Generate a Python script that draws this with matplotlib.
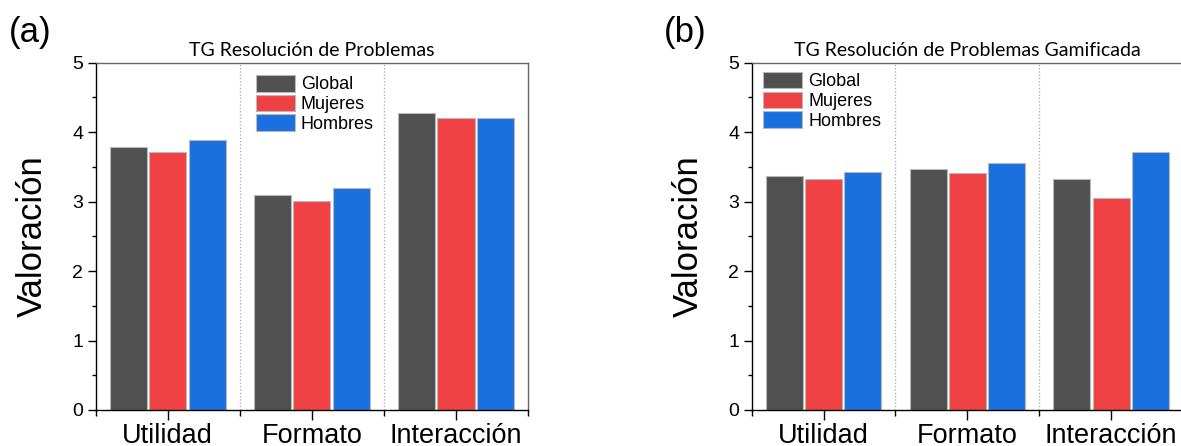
import numpy as np
import matplotlib
matplotlib.use('Agg')
from matplotlib import pyplot as plt
from matplotlib.ticker import MultipleLocator, FixedLocator

categories = ['Utilidad', 'Formato', 'Interacción']
series = ['Global', 'Mujeres', 'Hombres']

# panel (a): TG Resolución de Problemas
global_a = [3.78, 3.09, 4.28]
mujeres_a = [3.71, 3.01, 4.21]
hombres_a = [3.89, 3.19, 4.21]

# panel (b): TG Resolución de Problemas Gamificada
global_b = [3.37, 3.47, 3.32]
mujeres_b = [3.33, 3.41, 3.05]
hombres_b = [3.42, 3.56, 3.71]

titles = ['TG Resolución de Problemas', 'TG Resolución de Problemas Gamificada']
panel_labels = ['(a)', '(b)']

COLORS = ['#505050', '#ef4043', '#1b70df']
TICK_FONT = 'Liberation Sans'
TITLE_FONT = 'Lato'

plt.rcParams['font.family'] = [TICK_FONT, 'DejaVu Sans']

fig = plt.figure(figsize=(11.81, 4.46), dpi=100)
W, H = 1181.0, 446.0

def draw_panel(ax, values, title, legend_pos):
    x = np.arange(len(categories))
    width = 0.258
    step = 0.273
    for i, (name, vals) in enumerate(zip(series, values)):
        ax.bar(x + (i - 1) * step, vals, width, color=COLORS[i],
               edgecolor='#b8b8b8', linewidth=0.8, label=name, zorder=2)

    for b in [0.5, 1.5]:
        ax.axvline(b, color='#a8a8a8', linestyle=':', linewidth=0.9, zorder=1)

    ax.set_xlim(-0.5, 2.5)
    ax.set_ylim(0, 5)
    ax.set_xticks(x)
    ax.set_xticklabels(categories, fontsize=19.5)
    ax.xaxis.set_minor_locator(FixedLocator([-0.5, 0.5, 1.5, 2.5]))
    ax.yaxis.set_major_locator(MultipleLocator(1))
    ax.yaxis.set_minor_locator(MultipleLocator(0.5))
    ax.tick_params(axis='x', which='major', direction='out', length=7, width=1, pad=2.5)
    ax.tick_params(axis='x', which='minor', direction='out', length=4, width=1)
    ax.tick_params(axis='y', which='major', direction='out', length=6, width=1,
                   labelsize=14, pad=3)
    ax.tick_params(axis='y', which='minor', direction='out', length=3, width=1)

    for s in ['left', 'bottom']:
        ax.spines[s].set_color('black')
        ax.spines[s].set_linewidth(1.0)
    for s in ['top', 'right']:
        ax.spines[s].set_color('#666666')
        ax.spines[s].set_linewidth(1.0)

    ax.set_ylabel('Valoración', fontsize=25)
    ax.yaxis.set_label_coords(-0.108, 0.5)
    ax.set_title(title, fontsize=14, family=[TITLE_FONT, 'DejaVu Sans'], pad=5)

    ax.legend(loc='upper left', bbox_to_anchor=legend_pos, frameon=False,
              fontsize=13, handlelength=2.16, handleheight=1.05,
              handletextpad=0.35, labelspacing=0.07, borderpad=0,
              borderaxespad=0)

ax1 = fig.add_axes([95.7 / W, 36 / H, 432.3 / W, 347.3 / H])
ax2 = fig.add_axes([751.7 / W, 36 / H, 431.3 / W, 347.3 / H])

draw_panel(ax1, [global_a, mujeres_a, hombres_a], titles[0], (0.370, 0.965))
draw_panel(ax2, [global_b, mujeres_b, hombres_b], titles[1], (0.026, 0.974))

fig.text(9 / W, 1 - 16 / H, panel_labels[0], fontsize=25, ha='left', va='top')
fig.text(664 / W, 1 - 16 / H, panel_labels[1], fontsize=25, ha='left', va='top')

fig.savefig('out.png', dpi=100)
